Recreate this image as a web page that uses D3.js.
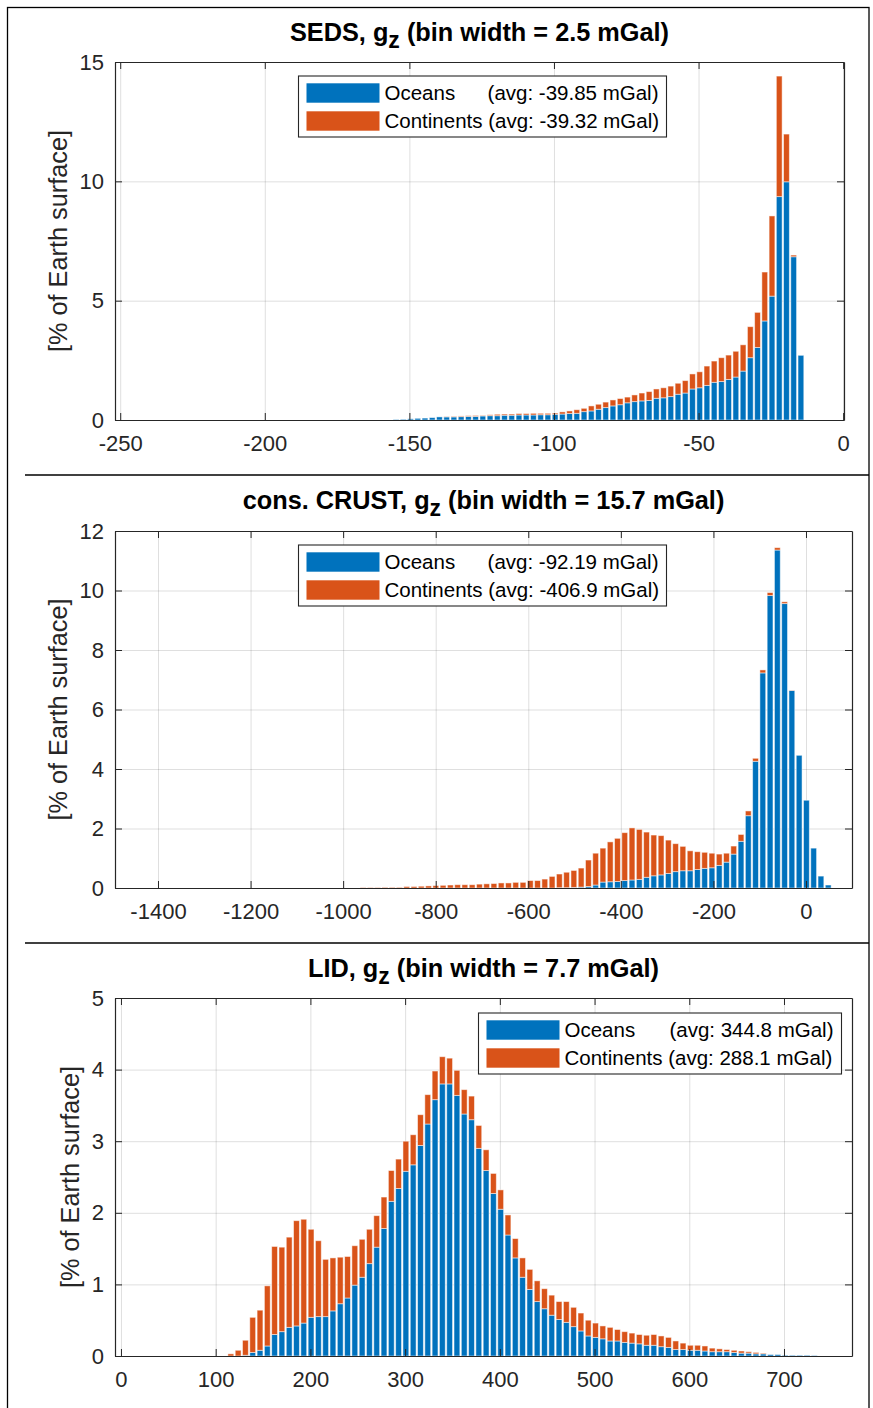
<!DOCTYPE html>
<html>
<head>
<meta charset="utf-8">
<script src="https://cdn.jsdelivr.net/npm/d3@7"></script>
<style>
  body { margin: 0; background: #fff; }
  svg { display: block; }
</style>
</head>
<body>
<svg id="fig" width="873" height="1408"></svg>
<script>
// ---- data ----
const sedsFirstCenter = -154.6, sedsBinWidth = 2.5;
const sedsOceans = [0.02, 0.03, 0.05, 0.07, 0.08, 0.10, 0.13, 0.13, 0.13, 0.14, 0.15, 0.15, 0.17, 0.18, 0.18,
  0.20, 0.20, 0.21, 0.21, 0.21, 0.22, 0.22, 0.24, 0.25, 0.27, 0.28, 0.35, 0.38, 0.45, 0.52, 0.59, 0.64, 0.72,
  0.77, 0.80, 0.82, 0.91, 0.93, 0.98, 1.08, 1.13, 1.30, 1.35, 1.45, 1.58, 1.61, 1.70, 1.80, 2.05, 2.61, 3.04,
  4.15, 5.19, 9.36, 9.98, 6.84, 2.71];
const sedsContinents = [0, 0, 0, 0, 0, 0, 0, 0.01, 0.02, 0.03, 0.03, 0.04, 0.02, 0.04, 0.06,
  0.05, 0.05, 0.06, 0.06, 0.07, 0.06, 0.06, 0.05, 0.09, 0.11, 0.15, 0.14, 0.21, 0.21, 0.23, 0.25, 0.26, 0.24,
  0.28, 0.33, 0.37, 0.39, 0.42, 0.44, 0.46, 0.52, 0.63, 0.67, 0.81, 0.89, 1.00, 1.02, 1.08, 1.10, 1.30, 1.47,
  2.05, 3.36, 5.05, 2.00, 0.07, 0];
const sedsXTicks = [-250, -200, -150, -100, -50, 0];
const sedsYTicks = [0, 5, 10, 15];
const sedsTitle = ["SEDS, g", "z", " (bin width = 2.5 mGal)"];
const sedsLegend = ["Oceans", "(avg: -39.85 mGal)", "Continents (avg: -39.32 mGal)"];

const crustFirstCenter = -956.8, crustBinWidth = 15.7;
const crustOceans = [0, 0, 0,
  0, 0, 0, 0, 0, 0, 0, 0, 0, 0, 0, 0, 0, 0, 0, 0, 0, 0, 0, 0, 0, 0, 0, 0,
  0.01, 0.01, 0.02, 0.03, 0.05, 0.10, 0.20, 0.21, 0.22, 0.25,
  0.27, 0.29, 0.36, 0.41, 0.44, 0.49, 0.55, 0.58, 0.58, 0.62, 0.66, 0.68, 0.76, 0.87, 1.14, 1.57, 2.43,
  4.26, 7.23, 9.83, 11.36, 9.56, 6.64, 4.46, 2.95, 1.34, 0.40, 0.10];
const crustContinents = [0.01, 0.01, 0.01,
  0.02, 0.02, 0.02, 0.05, 0.05, 0.06, 0.07, 0.08, 0.09, 0.10, 0.11, 0.11, 0.11, 0.13, 0.14, 0.15, 0.17,
  0.17, 0.19, 0.19, 0.25, 0.25, 0.30, 0.39,
  0.46, 0.52, 0.57, 0.64, 0.89, 1.07, 1.14, 1.34, 1.45, 1.61,
  1.75, 1.68, 1.52, 1.37, 1.32, 1.12, 0.94, 0.82, 0.67, 0.60, 0.54, 0.49, 0.38, 0.30, 0.27, 0.23, 0.16,
  0.10, 0.10, 0.10, 0.08, 0.06, 0.01, 0, 0, 0, 0, 0];
const crustXTicks = [-1400, -1200, -1000, -800, -600, -400, -200, 0];
const crustYTicks = [0, 2, 4, 6, 8, 10, 12];
const crustTitle = ["cons. CRUST, g", "z", " (bin width = 15.7 mGal)"];
const crustLegend = ["Oceans", "(avg: -92.19 mGal)", "Continents (avg: -406.9 mGal)"];

const lidFirstCenter = 116, lidBinWidth = 7.7;
const lidOceans = [0, 0, 0.01, 0.05, 0.08, 0.14, 0.30, 0.34, 0.40, 0.42, 0.46, 0.54, 0.55, 0.55, 0.63,
  0.73, 0.81, 0.99, 1.10, 1.29, 1.52, 1.78, 2.16, 2.34, 2.58, 2.67, 2.94, 3.24, 3.58, 3.80, 3.80, 3.64,
  3.38, 3.30, 2.90, 2.59, 2.27, 2.05, 1.69, 1.37, 1.10, 0.93, 0.76, 0.66, 0.57, 0.51, 0.47, 0.41, 0.35,
  0.28, 0.26, 0.24, 0.21, 0.21, 0.19, 0.18, 0.17, 0.15, 0.15, 0.13, 0.12, 0.09, 0.09, 0.08, 0.08, 0.07,
  0.06, 0.06, 0.06, 0.05, 0.04, 0.04, 0.03, 0.03, 0.02, 0.02, 0.01, 0.01, 0.01, 0.01, 0.005];
const lidContinents = [0.03, 0.08, 0.21, 0.49, 0.56, 0.84, 1.23, 1.18, 1.26, 1.47, 1.45, 1.23, 1.06, 0.80, 0.74,
  0.65, 0.58, 0.55, 0.53, 0.48, 0.44, 0.44, 0.43, 0.41, 0.42, 0.42, 0.43, 0.41, 0.40, 0.38, 0.36, 0.35,
  0.34, 0.33, 0.32, 0.29, 0.28, 0.27, 0.28, 0.27, 0.27, 0.28, 0.29, 0.28, 0.28, 0.25, 0.29, 0.27, 0.25,
  0.22, 0.20, 0.18, 0.19, 0.16, 0.15, 0.14, 0.13, 0.14, 0.15, 0.15, 0.14, 0.12, 0.09, 0.07, 0.07, 0.07,
  0.05, 0.04, 0.03, 0.03, 0.03, 0.02, 0.02, 0.01, 0, 0, 0, 0, 0, 0, 0];
const lidXTicks = [0, 100, 200, 300, 400, 500, 600, 700];
const lidYTicks = [0, 1, 2, 3, 4, 5];
const lidTitle = ["LID, g", "z", " (bin width = 7.7 mGal)"];
const lidLegend = ["Oceans", "(avg: 344.8 mGal)", "Continents (avg: 288.1 mGal)"];

const yLabel = "[% of Earth surface]";

// ---- layout ----
const FONT = "'Liberation Sans', Arial, Helvetica, sans-serif";
const AX = "#262626";
const BLUE = "#0072bd", ORANGE = "#d95319";

const svg = d3.select("#fig");

// outer frame and separators
svg.append("rect").attr("x", 7.5).attr("y", 7.5).attr("width", 861.5).attr("height", 1420)
  .attr("fill", "none").attr("stroke", "#000").attr("stroke-width", 1.3);
[475, 943].forEach(y => {
  svg.append("line").attr("x1", 25).attr("x2", 869).attr("y1", y).attr("y2", y)
    .attr("stroke", "#000").attr("stroke-width", 1.3);
});

const panels = [
  { first: sedsFirstCenter, bw: sedsBinWidth, oceans: sedsOceans, conts: sedsContinents,
    xTicks: sedsXTicks, yTicks: sedsYTicks, title: sedsTitle, legend: sedsLegend,
    top: 62, bottom: 420, left: 115, right: 844, xDomain: [-251.8, 0.3],
    titleY: 41, yLabelX: 67, leg: { x: 298.5, y: 76, w: 368, h: 61 } },
  { first: crustFirstCenter, bw: crustBinWidth, oceans: crustOceans, conts: crustContinents,
    xTicks: crustXTicks, yTicks: crustYTicks, title: crustTitle, legend: crustLegend,
    top: 531, bottom: 888, left: 115, right: 852, xDomain: [-1492.9, 99.4],
    titleY: 509, yLabelX: 67, leg: { x: 298.5, y: 545, w: 368, h: 61 } },
  { first: lidFirstCenter, bw: lidBinWidth, oceans: lidOceans, conts: lidContinents,
    xTicks: lidXTicks, yTicks: lidYTicks, title: lidTitle, legend: lidLegend,
    top: 998, bottom: 1356, left: 115, right: 852, xDomain: [-6.3, 771.8],
    titleY: 977, yLabelX: 79, leg: { x: 478.5, y: 1013, w: 363, h: 61 } }
];

function styleAxis(g, size) {
  g.attr("font-family", FONT).attr("font-size", size);
  g.selectAll("line").attr("stroke", AX).attr("stroke-width", 1);
  g.selectAll("path").attr("stroke", AX).attr("stroke-width", 1.2);
  g.selectAll("text").attr("fill", AX);
}

function drawPanel(p) {
  const x = d3.scaleLinear().domain(p.xDomain).range([p.left, p.right]);
  const yMax = p.yTicks[p.yTicks.length - 1];
  const y = d3.scaleLinear().domain([0, yMax]).range([p.bottom, p.top]);
  const h = p.bottom - p.top, w = p.right - p.left;
  const g = svg.append("g");

  // grid
  const gx = g.append("g").attr("transform", "translate(0," + p.bottom + ")")
    .call(d3.axisBottom(x).tickValues(p.xTicks).tickSize(-h).tickFormat(""));
  const gy = g.append("g").attr("transform", "translate(" + p.left + ",0)")
    .call(d3.axisLeft(y).tickValues(p.yTicks).tickSize(-w).tickFormat(""));
  [gx, gy].forEach(a => {
    a.select(".domain").remove();
    a.selectAll("line").attr("stroke", AX).attr("stroke-opacity", 0.15).attr("stroke-width", 1);
  });

  // stacked bars
  const bins = p.oceans.map((o, i) => ({ c: p.first + i * p.bw, o: o, k: p.conts[i] }));
  const half = p.bw * 0.4;
  const bars = g.append("g");
  bars.selectAll("rect.oc").data(bins).enter().append("rect")
    .attr("x", d => x(d.c - half)).attr("width", d => x(d.c + half) - x(d.c - half))
    .attr("y", d => y(d.o)).attr("height", d => y(0) - y(d.o))
    .attr("fill", BLUE).attr("stroke", "#fff").attr("stroke-opacity", 0.55).attr("stroke-width", 0.9);
  bars.selectAll("rect.co").data(bins.filter(d => d.k > 0)).enter().append("rect")
    .attr("x", d => x(d.c - half)).attr("width", d => x(d.c + half) - x(d.c - half))
    .attr("y", d => y(d.o + d.k)).attr("height", d => y(d.o) - y(d.o + d.k))
    .attr("fill", ORANGE).attr("stroke", "#fff").attr("stroke-opacity", 0.55).attr("stroke-width", 0.9);

  // axes (box with inward ticks)
  const bot = g.append("g").attr("transform", "translate(0," + p.bottom + ")")
    .call(d3.axisBottom(x).tickValues(p.xTicks).tickFormat(d => String(d))
      .tickSizeInner(-7).tickSizeOuter(0).tickPadding(15));
  const topA = g.append("g").attr("transform", "translate(0," + p.top + ")")
    .call(d3.axisTop(x).tickValues(p.xTicks).tickFormat("").tickSizeInner(-7).tickSizeOuter(0));
  const lef = g.append("g").attr("transform", "translate(" + p.left + ",0)")
    .call(d3.axisLeft(y).tickValues(p.yTicks).tickFormat(d => String(d))
      .tickSizeInner(-7).tickSizeOuter(0).tickPadding(11));
  const rig = g.append("g").attr("transform", "translate(" + p.right + ",0)")
    .call(d3.axisRight(y).tickValues(p.yTicks).tickFormat("").tickSizeInner(-7).tickSizeOuter(0));
  [bot, topA, lef, rig].forEach(a => styleAxis(a, 22));

  // title with subscript
  const t = g.append("text").attr("x", (p.left + p.right) / 2).attr("y", p.titleY)
    .attr("text-anchor", "middle").attr("font-family", FONT).attr("font-size", 25.3)
    .attr("font-weight", "bold").attr("fill", "#000");
  t.append("tspan").text(p.title[0]);
  t.append("tspan").attr("dy", 7).attr("font-size", 23).text(p.title[1]);
  t.append("tspan").attr("dy", -7).text(p.title[2]);

  // y label
  g.append("text").attr("transform", "translate(" + p.yLabelX + "," + (p.top + p.bottom) / 2 + ") rotate(-90)")
    .attr("text-anchor", "middle").attr("font-family", FONT).attr("font-size", 25.3)
    .attr("fill", AX).text(yLabel);

  // legend
  const L = p.leg;
  const lg = g.append("g");
  lg.append("rect").attr("x", L.x).attr("y", L.y).attr("width", L.w).attr("height", L.h)
    .attr("fill", "#fff").attr("stroke", AX).attr("stroke-width", 1.1);
  const rows = [L.y + 17, L.y + 45];
  [BLUE, ORANGE].forEach((c, i) => {
    lg.append("rect").attr("x", L.x + 8).attr("y", rows[i] - 9.7).attr("width", 73).attr("height", 19.4)
      .attr("fill", c);
  });
  const tx = L.x + 86;
  const lt = (s, xx, yy, anchor) => lg.append("text").attr("x", xx).attr("y", yy + 7.3)
    .attr("text-anchor", anchor).attr("font-family", FONT).attr("font-size", 20.5).attr("fill", "#000").text(s);
  lt(p.legend[0], tx, rows[0], "start");
  lt(p.legend[1], L.x + L.w - 8, rows[0], "end");
  lt(p.legend[2], tx, rows[1], "start");
}

panels.forEach(drawPanel);
</script>
</body>
</html>
